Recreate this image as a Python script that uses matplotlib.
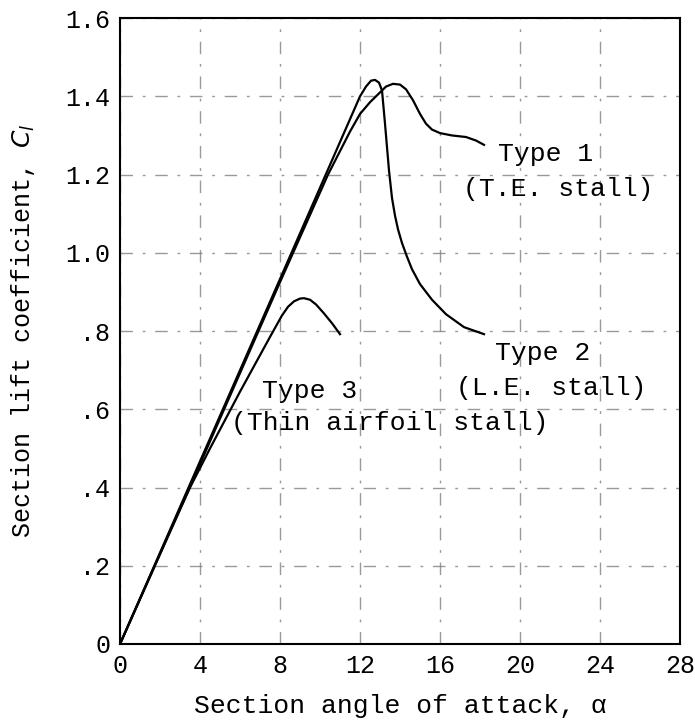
import matplotlib.pyplot as plt

plt.rcParams['font.family'] = ['Liberation Mono', 'DejaVu Sans']

# lift curves (alpha in degrees, Cl)
type1_alpha = [0, 4, 8, 10.4, 11.5, 12.0, 12.5, 12.9, 13.3, 13.65, 14.0, 14.3, 14.65, 15.0, 15.3, 15.6, 16.0, 16.6, 17.3, 17.8, 18.2]
type1_cl = [0, 0.46, 0.925, 1.2, 1.31, 1.355, 1.385, 1.405, 1.425, 1.432, 1.43, 1.418, 1.39, 1.355, 1.33, 1.315, 1.306, 1.3, 1.296, 1.287, 1.276]

type2_alpha = [0, 4, 8, 12.0, 12.3, 12.55, 12.75, 12.95, 13.1, 13.25, 13.45, 13.6, 13.75, 13.9, 14.1, 14.35, 14.6, 15.0, 15.6, 16.3, 17.2, 18.2]
type2_cl = [0, 0.467, 0.933, 1.40, 1.425, 1.44, 1.442, 1.435, 1.415, 1.33, 1.21, 1.14, 1.095, 1.06, 1.025, 0.99, 0.958, 0.92, 0.88, 0.843, 0.81, 0.792]

type3_alpha = [0, 2, 3.5, 4.5, 6, 7.5, 8.1, 8.4, 8.7, 9.0, 9.2, 9.5, 9.8, 10.2, 10.6, 11.0]
type3_cl = [0, 0.23, 0.40, 0.50, 0.645, 0.785, 0.84, 0.862, 0.876, 0.883, 0.884, 0.88, 0.868, 0.845, 0.82, 0.792]

x_ticks = [0, 4, 8, 12, 16, 20, 24, 28]
y_ticks = [0, 0.2, 0.4, 0.6, 0.8, 1.0, 1.2, 1.4, 1.6]
y_tick_labels = ['0', '.2', '.4', '.6', '.8', '1.0', '1.2', '1.4', '1.6']

fig = plt.figure(figsize=(6.95, 7.24), dpi=100)
ax = fig.add_axes([0.1727, 0.1105, 0.8057, 0.8645])

ax.plot(type1_alpha, type1_cl, color='k', lw=1.6)
ax.plot(type2_alpha, type2_cl, color='k', lw=1.6)
ax.plot(type3_alpha, type3_cl, color='k', lw=1.6)

ax.set_xlim(0, 28)
ax.set_ylim(0, 1.6)
ax.set_xticks(x_ticks)
ax.set_yticks(y_ticks)
ax.set_yticklabels(y_tick_labels)
ax.tick_params(length=0, labelsize=18, pad=7)
ax.grid(True, color='0.5', lw=1, linestyle=(0, (9, 7, 2, 7)), alpha=0.8)
for s in ax.spines.values():
    s.set_linewidth(1.5)

fs = 19
ax.text(21.3, 1.253, 'Type 1', fontsize=fs, ha='center', va='center')
ax.text(21.9, 1.162, '(T.E. stall)', fontsize=fs, ha='center', va='center')
ax.text(21.15, 0.744, 'Type 2', fontsize=fs, ha='center', va='center')
ax.text(21.55, 0.655, '(L.E. stall)', fontsize=fs, ha='center', va='center')
ax.text(9.5, 0.647, 'Type 3', fontsize=fs, ha='center', va='center')
ax.text(13.5, 0.566, '(Thin airfoil stall)', fontsize=fs, ha='center', va='center')

ax.set_xlabel('Section angle of attack, α', fontsize=fs, labelpad=12)
ax.set_ylabel('Section lift coefficient, $C_l$', fontsize=18)
ax.yaxis.set_label_coords(-0.148, 0.5)

plt.savefig('out.png', dpi=100)
